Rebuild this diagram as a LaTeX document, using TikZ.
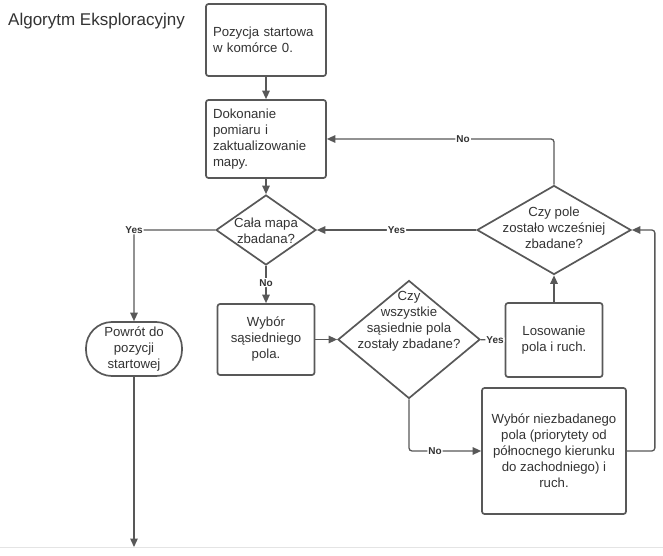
\documentclass[tikz,border=0pt]{standalone}
\usepackage{fontspec}
\setmainfont{Liberation Sans}
\usetikzlibrary{shapes.geometric,arrows.meta}
\definecolor{ln}{RGB}{88,88,88}
\definecolor{tx}{RGB}{51,51,51}
\definecolor{faint}{RGB}{228,228,228}
\begin{document}
\begin{tikzpicture}[x=1pt,y=-1pt,
  box/.style={draw=ln, line width=1.7pt, rounded corners=2.5pt, fill=white, inner sep=0pt,
    font=\fontsize{13.2}{16}\selectfont, text=tx, align=center},
  dia/.style={diamond, draw=ln, line width=1.7pt, inner sep=0pt, fill=white},
  txt/.style={font=\fontsize{13.2}{16}\selectfont, text=tx, align=center, inner sep=0pt},
  conn/.style={draw=ln, line width=1.3pt, -{Triangle[length=8.5pt,width=7.5pt]}, rounded corners=3pt},
  lab/.style={font=\bfseries\fontsize{10}{12}\selectfont, text=tx, fill=white, inner sep=1pt}]
\useasboundingbox (0,0) rectangle (663,556);
\fill[white] (0,0) rectangle (663,556);
\draw[faint, line width=0.8pt] (0,547) -- (663,547);

\node[anchor=base west, font=\fontsize{17}{20}\selectfont, text=tx, inner sep=0pt] (title) at (8,26) {Algorytm Eksploracyjny};

\node[box, minimum width=120pt, minimum height=72pt, text width=106pt, align=left] (b1) at (266,40) {Pozycja startowa\\w komórce 0.};
\node[box, minimum width=120pt, minimum height=78pt, text width=106pt, align=left] (b2) at (266,139) {Dokonanie\\pomiaru i\\zaktualizowanie\\mapy.};

\node[dia, minimum width=100pt, minimum height=70pt] (d1) at (266,230) {};
\node[txt] (d1t) at (266,231) {Cała mapa\\zbadana?};

\node[box, minimum width=97pt, minimum height=71pt] (b3) at (266,339.5) {Wybór\\sąsiedniego\\pola.};

\node[dia, minimum width=142pt, minimum height=118pt] (d2) at (409,339.5) {};
\node[txt] (d2t) at (409,321) {Czy\\wszystkie\\sąsiednie pola\\zostały zbadane?};

\node[box, minimum width=97pt, minimum height=74pt] (b4) at (554,340) {Losowanie\\pola i ruch.};

\node[dia, minimum width=154pt, minimum height=89pt] (d3) at (554,230) {};
\node[txt] (d3t) at (554,228) {Czy pole\\zostało wcześniej\\zbadane?};

\node[box, minimum width=144pt, minimum height=126pt] (b5) at (554,451) {Wybór niezbadanego\\pola (priorytety od\\północnego kierunku\\do zachodniego) i\\ruch.};

\node[box, minimum width=96pt, minimum height=54pt, rounded corners=26pt] (term) at (134,349) {Powrót do\\pozycji\\startowej};
\coordinate (end) at (134,547);

\draw[conn] (b1) -- (b2);
\draw[conn] (b2) -- (d1);
\draw[conn] (d1) -- node[lab,pos=0.45]{No} (b3);
\draw[conn] (d1.west) -| node[lab,pos=0.5]{Yes} (term.north);
\draw[conn] (b3) -- (d2);
\draw[conn] (d2) -- node[lab,pos=0.6]{Yes} (b4);
\draw[conn] (b4) -- (d3);
\draw[conn] (d3.north) |- node[lab,pos=0.70]{No} (b2.east);
\draw[conn] (d3.west) -- node[lab,pos=0.5]{Yes} (d1.east);
\draw[conn] (d2.south) |- node[lab,pos=0.68]{No} (b5.west);
\draw[conn] (b5.east) -- ++(28,0) |- (d3.east);
\draw[conn] (term) -- (end);
\end{tikzpicture}
\end{document}
